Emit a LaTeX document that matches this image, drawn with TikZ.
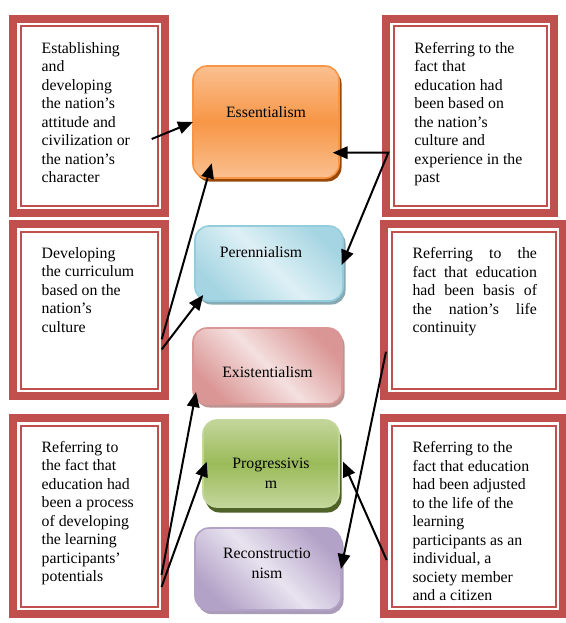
\documentclass[tikz,border=0pt]{standalone}
\usepackage{fontspec}
\setmainfont{Liberation Serif}
\usetikzlibrary{arrows.meta,positioning,calc,shadows}
\setlength{\parindent}{0pt}

\definecolor{frameRed}{HTML}{C0504D}
\definecolor{essLt}{HTML}{FAC090}
\definecolor{essMid}{HTML}{F79646}
\definecolor{essShd}{HTML}{984807}
\definecolor{perLt}{HTML}{DDF0F5}
\definecolor{perDk}{HTML}{A5D5E2}
\definecolor{perLine}{HTML}{93CDDD}
\definecolor{perShd}{HTML}{86A9B3}
\definecolor{exiLt}{HTML}{F4E0DF}
\definecolor{exiDk}{HTML}{DA9694}
\definecolor{exiShd}{HTML}{BC9593}
\definecolor{proLt}{HTML}{C3D69B}
\definecolor{proMid}{HTML}{9BBB59}
\definecolor{proShd}{HTML}{4F6228}
\definecolor{recLt}{HTML}{E8E3EF}
\definecolor{recDk}{HTML}{B3A2C7}
\definecolor{recShd}{HTML}{A99CB8}

\newcommand{\boxfont}{\fontsize{15.8}{18.5}\selectfont}
\newcommand{\midfont}{\fontsize{15.8}{20}\selectfont}

\begin{document}
\begin{tikzpicture}[
  x=1pt, y=-1pt,
  framebox/.style={rectangle, inner sep=0pt, outer sep=0pt, fill=white,
                   draw=frameRed, line width=2pt,
                   preaction={draw=frameRed, line width=23pt},
                   preaction={draw=white, line width=7pt}},
  boxtext/.style={inner sep=0pt, align=left, font=\boxfont},
  midbox/.style={rectangle, rounded corners=14pt, inner sep=0pt,
                 outer sep=0pt, line width=1.6pt},
  midtext/.style={inner sep=0pt, align=center, font=\midfont},
  essbox/.style={midbox, draw=essMid, top color=essLt, bottom color=essLt,
                 middle color=essMid,
                 drop shadow={shadow xshift=2.5pt, shadow yshift=-3.5pt,
                              fill=essShd, opacity=1}},
  perbox/.style={midbox, draw=perLine, top color=perDk, bottom color=perDk,
                 middle color=perLt, shading angle=-45,
                 drop shadow={shadow xshift=2.5pt, shadow yshift=-3.5pt,
                              fill=perShd, opacity=1}},
  exibox/.style={midbox, draw=exiDk, top color=exiDk, bottom color=exiDk,
                 middle color=exiLt, shading angle=-45,
                 drop shadow={shadow xshift=2.5pt, shadow yshift=-3.5pt,
                              fill=exiShd, opacity=1}},
  probox/.style={midbox, draw=proLt, top color=proLt, bottom color=proLt,
                 middle color=proMid,
                 drop shadow={shadow xshift=2.5pt, shadow yshift=-5.5pt,
                              fill=proShd, opacity=1}},
  recbox/.style={midbox, draw=recDk, top color=recDk, bottom color=recDk,
                 middle color=recLt, shading angle=-45,
                 drop shadow={shadow xshift=2.5pt, shadow yshift=-4pt,
                              fill=recShd, opacity=1}},
  arr/.style={-{Triangle[length=15pt,width=12.5pt]}, line width=2pt},
  arrboth/.style={{Triangle[length=15pt,width=12.5pt]}-{Triangle[length=15pt,width=12.5pt]},
                  line width=2pt},
]
\useasboundingbox (0,0) rectangle (565,623);

% Left column
\node[framebox, minimum width=137pt, minimum height=179pt] (l1) at (89,116) {};
\node[framebox, minimum width=137pt, minimum height=157pt] (l2) at (89,310) {};
\node[framebox, minimum width=137pt, minimum height=181pt] (l3) at (89,516) {};

\node[boxtext, below right=15.5pt and 21pt of l1.north west] (l1t)
  {Establishing\\and\\developing\\the nation’s\\attitude and\\civilization or\\the nation’s\\character};
\node[boxtext, below right=15.5pt and 21pt of l2.north west] (l2t)
  {Developing\\the curriculum\\based on the\\nation’s\\culture};
\node[boxtext, below right=15.5pt and 21pt of l3.north west] (l3t)
  {Referring to\\the fact that\\education had\\been a process\\of developing\\the learning\\participants’\\potentials};

% Right column
\node[framebox, minimum width=153.3pt, minimum height=179pt] (r1) at (470.2,116) {};
\node[framebox, minimum width=164pt, minimum height=157pt] (r2) at (473.5,310) {};
\node[framebox, minimum width=164pt, minimum height=181pt] (r3) at (473.5,516) {};

\node[boxtext, below right=15.5pt and 20.7pt of r1.north west] (r1t)
  {Referring to the\\fact that\\education had\\been based on\\the nation’s\\culture and\\experience in the\\past};
\node[boxtext, below right=16pt and 20.8pt of r2.north west] (r2t)
  {\makebox[124.5pt][s]{Referring to the}\\
   \makebox[124.5pt][s]{fact that education}\\
   \makebox[124.5pt][s]{had been basis of}\\
   \makebox[124.5pt][s]{the nation’s life}\\
   continuity};
\node[boxtext, below right=16pt and 20.8pt of r3.north west] (r3t)
  {Referring to the\\fact that education\\had been adjusted\\to the life of the\\learning\\participants as an\\individual, a\\society member\\and a citizen};

% Middle column
\node[essbox, minimum width=146pt, minimum height=112pt] (ess) at (266,122) {};
\node[perbox, minimum width=148pt, minimum height=75pt] (per) at (269,263.5) {};
\node[exibox, minimum width=149pt, minimum height=76pt] (exi) at (267.5,366) {};
\node[probox, minimum width=136pt, minimum height=87pt] (pro) at (271,463.5) {};
\node[recbox, minimum width=146pt, minimum height=82pt] (rec) at (268,569) {};

\node[midtext, below=39.9pt of ess.north] (essT) {Essentialism};
\node[midtext, below=19.9pt of per.north, xshift=-8pt] (perT) {Perennialism};
\node[midtext, below=37.9pt of exi.north] (exiT) {Existentialism};
\node[midtext, below=37.5pt of pro.north] (proT) {Progressivis\\m};
\node[midtext, below=19.5pt of rec.north, xshift=-1pt] (recT) {Reconstructio\\nism};

% Arrow start points
\coordinate (l1out) at (151.7,139);
\coordinate (l2outA) at (161.7,339.3);
\coordinate (l2outB) at (161.7,349.3);
\coordinate (l3outA) at (161.5,575);
\coordinate (l3outB) at (161.5,587);
\coordinate (r1out) at (388.3,152.7);
\coordinate (r2out) at (386,351.7);
\coordinate (r3out) at (386.7,560);

% Arrows
\draw[arr] (l1out) -- (ess.west);
\draw[arr] (l2outA) -- ($(ess.south west)+(18.7,-14.7)$);
\draw[arr] (l2outB) -- ($(per.south west)+(8.3,-6)$);
\draw[arr] (l3outA) -- ($(exi.south west)+(3,-12)$);
\draw[arr] (l3outB) -- ($(pro.west)+(3.7,-1.8)$);
\draw[arrboth] ($(ess.south east)+(-6.3,-25.3)$) -- (r1out) -- ($(per.east)+(-1.3,1.5)$);
\draw[arr] (r2out) -- (rec.east);
\draw[arr] (r3out) -- ($(pro.east)+(4,-1.8)$);

\end{tikzpicture}
\end{document}
